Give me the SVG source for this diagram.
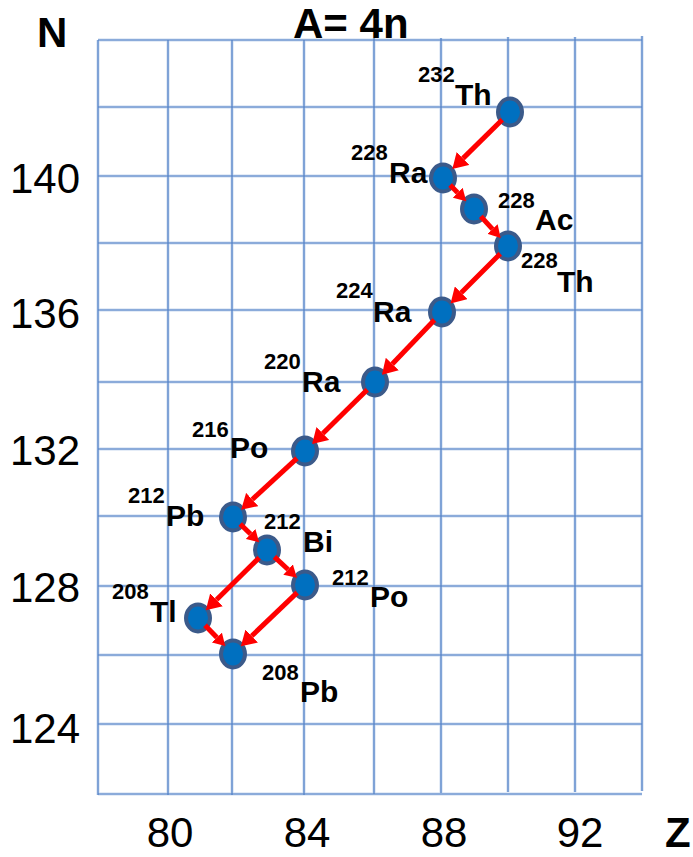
<svg xmlns="http://www.w3.org/2000/svg" width="693" height="857" viewBox="0 0 693 857">
<style>
.halo{stroke:#C9D9EF;stroke-width:3;fill:none}
.grid{stroke:#4F7FC6;stroke-width:1.2;fill:none}
.node ellipse{fill:#0070C0;stroke:#3B5A8A;stroke-width:4}
.arr{stroke:#FF0000;stroke-width:5;fill:none}
.a{marker-end:url(#ha)}
.b{marker-end:url(#hb)}
.sup{font-family:"Liberation Sans",Arial,sans-serif;font-weight:bold;font-size:22px;fill:#000}
.sym{font-family:"Liberation Sans",Arial,sans-serif;font-weight:bold;font-size:30px;fill:#000}
.ax{font-family:"Liberation Sans",Arial,sans-serif;font-size:42px;fill:#000}
.big{font-family:"Liberation Sans",Arial,sans-serif;font-weight:bold;font-size:42px;fill:#000}
</style>
<defs>
<marker id="ha" viewBox="0 0 15 18" refX="0" refY="9" markerWidth="15" markerHeight="18" markerUnits="userSpaceOnUse" orient="auto"><path d="M0,0 L15,9 L0,18 z" fill="#FF0000"/></marker>
<marker id="hb" viewBox="0 0 12 14" refX="0" refY="7" markerWidth="12" markerHeight="14" markerUnits="userSpaceOnUse" orient="auto"><path d="M0,0 L12,7 L0,14 z" fill="#FF0000"/></marker>
</defs>
<rect width="693" height="857" fill="#fff"/>
<g id="grid">
<g class="halo">
<path d="M98,40V795M168,40V795M232,40V795M304,40V795M374,38V794M441,38V793M508,37V792M575,37V792M642,36V791"/>
<path d="M98,40H642M98,107H642M98,176H642M98,243H642M98,310H642M98,382H642M98,449H642M98,516H642M98,586H642M98,655H642M98,724H642M98,794H642"/>
</g>
<g class="grid">
<path d="M98,40V795M168,40V795M232,40V795M304,40V795M374,38V794M441,38V793M508,37V792M575,37V792M642,36V791"/>
<path d="M98,40H642M98,107H642M98,176H642M98,243H642M98,310H642M98,382H642M98,449H642M98,516H642M98,586H642M98,655H642M98,724H642M98,794H642"/>
</g>
</g>
<g id="axes">
<text class="big" x="37" y="47">N</text>
<text class="big" x="293" y="38">A= 4n</text>
<text class="big" x="665" y="847">Z</text>
<g text-anchor="end">
<text class="ax" x="80" y="193">140</text>
<text class="ax" x="80" y="328">136</text>
<text class="ax" x="80" y="465">132</text>
<text class="ax" x="80" y="602">128</text>
<text class="ax" x="80" y="743">124</text>
</g>
<g text-anchor="middle">
<text class="ax" x="170" y="847">80</text>
<text class="ax" x="307" y="847">84</text>
<text class="ax" x="444" y="847">88</text>
<text class="ax" x="580" y="847">92</text>
</g>
</g>
<g id="Th232" class="node"><ellipse cx="510" cy="112" rx="12" ry="13.5"/><text class="sup" x="418" y="82">232</text><text class="sym" x="455" y="105">Th</text></g>
<g id="Ra228" class="node"><ellipse cx="443" cy="178" rx="12" ry="13.5"/><text class="sup" x="351" y="160">228</text><text class="sym" x="389" y="183">Ra</text></g>
<g id="Ac228" class="node"><ellipse cx="474" cy="209" rx="12" ry="13.5"/><text class="sup" x="498" y="208">228</text><text class="sym" x="535" y="230">Ac</text></g>
<g id="Th228" class="node"><ellipse cx="508" cy="246" rx="12" ry="13.5"/><text class="sup" x="521" y="268">228</text><text class="sym" x="557" y="292">Th</text></g>
<g id="Ra224" class="node"><ellipse cx="442" cy="312" rx="12" ry="13.5"/><text class="sup" x="336" y="298">224</text><text class="sym" x="373" y="322">Ra</text></g>
<g id="Ra220" class="node"><ellipse cx="375" cy="382" rx="12" ry="13.5"/><text class="sup" x="264" y="369">220</text><text class="sym" x="302" y="392">Ra</text></g>
<g id="Po216" class="node"><ellipse cx="305" cy="451" rx="12" ry="13.5"/><text class="sup" x="192" y="437">216</text><text class="sym" x="230" y="458">Po</text></g>
<g id="Pb212" class="node"><ellipse cx="233" cy="517" rx="12" ry="13.5"/><text class="sup" x="128" y="503">212</text><text class="sym" x="166" y="526">Pb</text></g>
<g id="Bi212" class="node"><ellipse cx="267" cy="550" rx="12" ry="13.5"/><text class="sup" x="264" y="529">212</text><text class="sym" x="303" y="552">Bi</text></g>
<g id="Po212" class="node"><ellipse cx="305" cy="585" rx="12" ry="13.5"/><text class="sup" x="332" y="585">212</text><text class="sym" x="370" y="607">Po</text></g>
<g id="Tl208" class="node"><ellipse cx="198" cy="618" rx="12" ry="13.5"/><text class="sup" x="112" y="599">208</text><text class="sym" x="150" y="622">Tl</text></g>
<g id="Pb208" class="node"><ellipse cx="233" cy="654" rx="12" ry="13.5"/><text class="sup" x="262" y="680">208</text><text class="sym" x="300" y="702">Pb</text></g>
<g id="connectors">
<line class="arr a" x1="502.2" y1="119.7" x2="463" y2="158.4"/>
<line class="arr a" x1="500.2" y1="253.8" x2="461.2" y2="292.8"/>
<line class="arr a" x1="434.4" y1="319.9" x2="392.3" y2="364"/>
<line class="arr a" x1="367.2" y1="389.7" x2="322.8" y2="433.5"/>
<line class="arr a" x1="296.9" y1="458.4" x2="252.2" y2="499.5"/>
<line class="arr a" x1="259.2" y1="557.7" x2="216.5" y2="599.8"/>
<line class="arr a" x1="297.1" y1="592.6" x2="251.7" y2="636"/>
<line class="arr b" x1="450.1" y1="185.1" x2="457.7" y2="192.7"/>
<line class="arr b" x1="480.8" y1="216.4" x2="492.5" y2="229.1"/>
<line class="arr b" x1="240.2" y1="524" x2="250.5" y2="534"/>
<line class="arr b" x1="274.4" y1="556.8" x2="288.1" y2="569.5"/>
<line class="arr b" x1="205" y1="625.2" x2="216.9" y2="637.5"/>
</g>
</svg>
